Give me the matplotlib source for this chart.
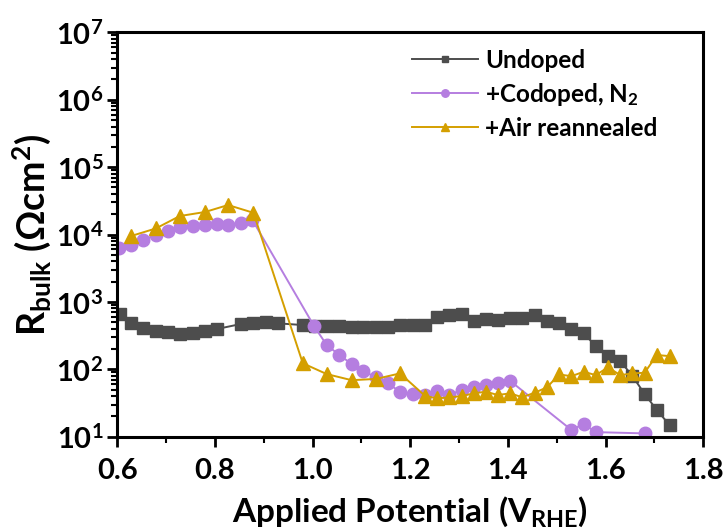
import numpy as np
import matplotlib.pyplot as plt
from matplotlib.ticker import MultipleLocator, LogLocator

plt.rcParams['font.family'] = ['Lato', 'DejaVu Sans']
plt.rcParams['font.weight'] = 'bold'
plt.rcParams['mathtext.fontset'] = 'custom'
plt.rcParams['mathtext.rm'] = 'Lato:bold'
plt.rcParams['mathtext.it'] = 'Lato:bold'
plt.rcParams['mathtext.bf'] = 'Lato:bold'

# Undoped
und_x = [0.606, 0.628, 0.653, 0.679, 0.704, 0.728, 0.755, 0.780, 0.804, 0.853, 0.879,
         0.904, 0.929, 0.980, 1.005, 1.029, 1.055, 1.080, 1.104, 1.130, 1.154, 1.179,
         1.205, 1.230, 1.254, 1.280, 1.305, 1.330, 1.355, 1.379, 1.405, 1.429, 1.455,
         1.480, 1.505, 1.530, 1.555, 1.580, 1.605, 1.630, 1.655, 1.680, 1.705, 1.731]
und_y = [670, 495, 405, 374, 354, 334, 342, 366, 396, 470, 481,
         498, 481, 454, 445, 439, 439, 429, 429, 420, 429, 450,
         450, 450, 590, 632, 655, 515, 557, 545, 583, 572, 640,
         515, 491, 392, 342, 222, 157, 133, 79.5, 43, 24.9, 14.9]

# +Codoped, N2
cod_x = [0.604, 0.628, 0.653, 0.679, 0.704, 0.728, 0.755, 0.780, 0.804, 0.827, 0.853,
         0.877, 1.003, 1.029, 1.055, 1.080, 1.104, 1.130, 1.154, 1.179, 1.205, 1.230,
         1.254, 1.280, 1.305, 1.330, 1.355, 1.379, 1.405, 1.530, 1.555, 1.580, 1.680]
cod_y = [6240, 6980, 8290, 9830, 11400, 13100, 13400, 14000, 14300, 14000, 15000,
         16400, 439, 229, 163, 120, 94, 76, 62, 46.6, 43, 42,
         47.6, 41.6, 49.3, 54, 58.5, 63, 67, 12.6, 15.4, 11.7, 11.2]

# +Air reannealed
air_x = [0.628, 0.679, 0.728, 0.780, 0.827, 0.879, 0.980, 1.029, 1.080, 1.130, 1.179,
         1.230, 1.254, 1.280, 1.305, 1.330, 1.355, 1.379, 1.405, 1.429, 1.455, 1.480,
         1.505, 1.530, 1.555, 1.580, 1.605, 1.630, 1.655, 1.680, 1.705, 1.731]
air_y = [9480, 12300, 18800, 21600, 27400, 21000, 123, 85, 69, 72, 87,
         40.6, 37, 38.4, 40, 44, 46.6, 41.6, 44, 38.5, 45, 54,
         84, 79, 92, 82, 107, 82, 87, 89, 163, 157]

c_und = '#4d4d4d'
c_cod = '#b57ee0'
c_air = '#d49f00'

fig = plt.figure(figsize=(7.28, 5.30), dpi=100)
ax = fig.add_axes([0.161, 0.176, 0.805, 0.763])

ax.plot(und_x, und_y, color=c_und, marker='s', ms=8, lw=1.4, label='Undoped')
ax.plot(cod_x, cod_y, color=c_cod, marker='o', ms=9, lw=1.4, label='+Codoped, N$_2$')
ax.plot(air_x, air_y, color=c_air, marker='^', ms=10, lw=1.4, label='+Air reannealed')

ax.set_yscale('log')
ax.set_xlim(0.6, 1.8)
ax.set_ylim(10, 1e7)
ax.xaxis.set_minor_locator(MultipleLocator(0.1))
ax.yaxis.set_major_locator(LogLocator(base=10, numticks=10))
ax.yaxis.set_minor_locator(LogLocator(base=10, subs=np.arange(2, 10), numticks=10))
ax.set_xticks([0.6, 0.8, 1.0, 1.2, 1.4, 1.6, 1.8])
ax.set_xticklabels(['0.6', '0.8', '1.0', '1.2', '1.4', '1.6', '1.8'])

for s in ax.spines.values():
    s.set_linewidth(2.2)
ax.tick_params(which='major', direction='out', length=7, width=2, labelsize=21)
ax.tick_params(axis='x', which='major', pad=8)
ax.tick_params(axis='y', which='major', pad=3)
ax.tick_params(which='minor', direction='out', length=4, width=1.5)
for lab in ax.get_xticklabels() + ax.get_yticklabels():
    lab.set_fontweight('bold')

ax.set_xlabel('Applied Potential (V$_{RHE}$)', fontsize=24, fontweight='bold', labelpad=8)
ax.set_ylabel('R$_{bulk}$ (Ωcm$^2$)', fontsize=27, fontweight='bold', labelpad=2)

leg = ax.legend(loc='upper left', bbox_to_anchor=(0.503, 0.96), borderaxespad=0,
                borderpad=0, fontsize=17.5, frameon=False, handlelength=2.7,
                handletextpad=0.3, markerscale=0.6, labelspacing=0.38)
for t in leg.get_texts():
    t.set_fontweight('bold')

fig.savefig('out.png', dpi=100)
